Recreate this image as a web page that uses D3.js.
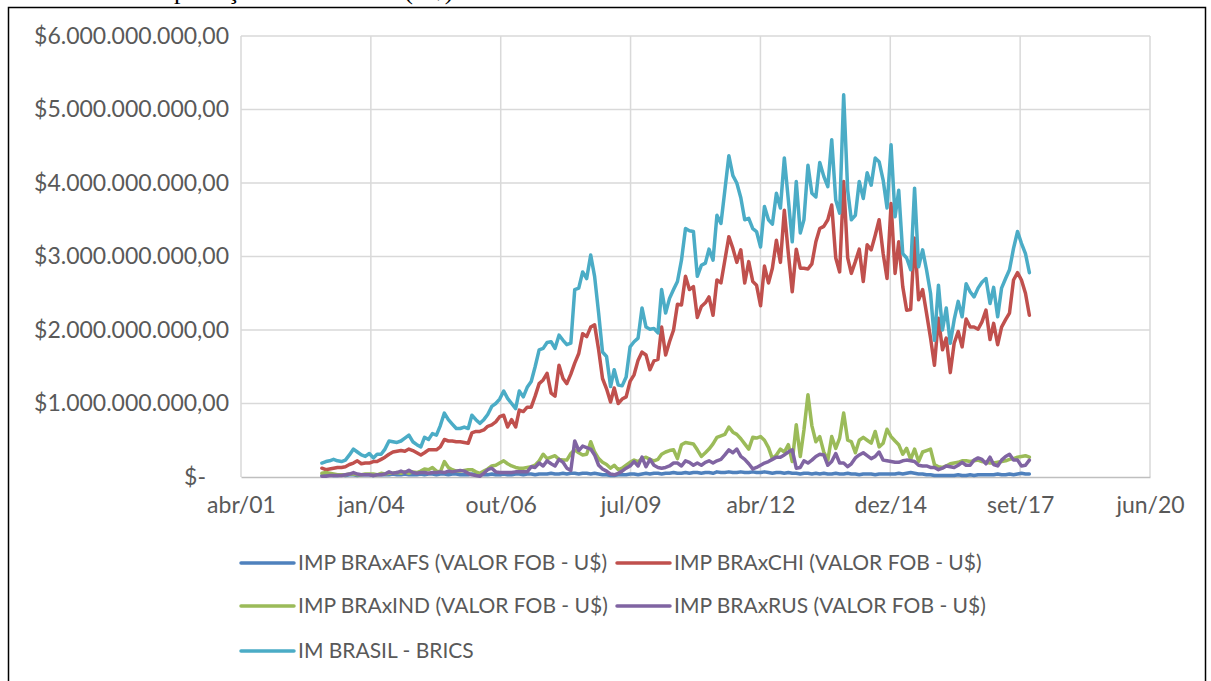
<!DOCTYPE html>
<html>
<head>
<meta charset="utf-8">
<script src="https://cdn.jsdelivr.net/npm/d3@7/dist/d3.min.js"></script>
<style>
  body { margin: 0; background: #fff; }
  text { font-family: Lato, "Open Sans", sans-serif; fill: #595959; }
</style>
</head>
<body>
<svg id="chart" width="1211" height="681"></svg>
<script>
// monthly imports, jan/2003 .. dez/2017, in billions of US$
var firstMonth = new Date(2003, 0, 1);

var seriesNames = [
    'IMP BRAxAFS (VALOR FOB - U$)',
    'IMP BRAxCHI (VALOR FOB - U$)',
    'IMP BRAxIND (VALOR FOB - U$)',
    'IMP BRAxRUS (VALOR FOB - U$)',
    'IM BRASIL - BRICS'
];
var seriesColors = ['#4f81bd', '#c0504d', '#9bbb59', '#8064a2', '#4bacc6'];

var afs = [
    0.02,0.02,0.03,0.02,0.02,0.03,0.02,0.03,0.03,0.02,0.03,0.03,
    0.03,0.02,0.03,0.03,0.03,0.03,0.04,0.03,0.03,0.04,0.03,0.03,
    0.03,0.04,0.03,0.04,0.04,0.03,0.04,0.04,0.03,0.04,0.04,0.03,
    0.03,0.03,0.04,0.03,0.04,0.03,0.03,0.04,0.03,0.03,0.04,0.03,
    0.03,0.04,0.04,0.03,0.04,0.04,0.03,0.04,0.04,0.04,0.05,0.04,
    0.04,0.05,0.04,0.05,0.05,0.04,0.05,0.05,0.04,0.05,0.04,0.03,
    0.03,0.02,0.02,0.03,0.03,0.03,0.04,0.04,0.03,0.04,0.05,0.04,
    0.05,0.05,0.04,0.05,0.05,0.06,0.05,0.05,0.06,0.05,0.06,0.06,
    0.05,0.06,0.06,0.05,0.07,0.06,0.06,0.07,0.06,0.06,0.07,0.06,
    0.06,0.07,0.06,0.06,0.07,0.06,0.05,0.06,0.06,0.05,0.06,0.05,
    0.05,0.04,0.05,0.05,0.04,0.05,0.04,0.05,0.04,0.04,0.05,0.04,
    0.04,0.05,0.04,0.04,0.03,0.04,0.04,0.04,0.03,0.04,0.04,0.04,
    0.04,0.04,0.05,0.04,0.05,0.06,0.05,0.04,0.04,0.03,0.03,0.02,
    0.02,0.02,0.02,0.02,0.02,0.03,0.02,0.02,0.03,0.02,0.03,0.03,
    0.03,0.03,0.03,0.04,0.03,0.03,0.04,0.03,0.04,0.05,0.04,0.04
];

var chi = [
    0.12,0.10,0.11,0.12,0.13,0.13,0.14,0.17,0.19,0.22,0.18,0.19,
    0.19,0.21,0.21,0.24,0.27,0.31,0.34,0.35,0.36,0.35,0.38,0.36,
    0.33,0.30,0.33,0.37,0.37,0.37,0.41,0.51,0.49,0.49,0.48,0.48,
    0.47,0.46,0.60,0.62,0.62,0.64,0.69,0.71,0.75,0.82,0.84,0.68,
    0.78,0.68,0.91,0.89,0.95,0.95,1.10,1.27,1.32,1.41,1.14,1.10,
    1.52,1.34,1.27,1.40,1.55,1.68,1.95,1.91,2.04,2.07,1.73,1.34,
    1.20,1.02,1.21,1.00,1.06,1.09,1.30,1.39,1.59,1.70,1.66,1.46,
    1.58,1.60,2.04,1.66,1.84,2.00,2.35,2.34,2.73,2.55,2.59,2.17,
    2.32,2.37,2.45,2.20,2.68,2.64,2.95,3.27,3.11,2.92,3.09,2.64,
    2.93,2.66,2.61,2.33,2.87,2.64,2.84,3.22,2.92,3.63,3.04,2.52,
    3.10,2.84,2.84,2.83,2.90,3.20,3.38,3.41,3.50,3.70,2.98,2.79,
    4.02,2.98,2.77,2.93,3.10,2.66,3.16,3.09,3.29,3.50,3.04,2.70,
    3.72,2.77,3.20,2.59,2.27,2.28,3.25,2.41,2.55,2.23,1.89,1.52,
    2.16,1.73,1.89,1.42,1.82,1.98,1.77,2.15,2.04,2.04,2.01,2.11,
    2.27,1.87,2.09,1.80,2.04,2.14,2.23,2.68,2.78,2.68,2.50,2.20
];

var ind = [
    0.05,0.06,0.05,0.04,0.03,0.03,0.03,0.04,0.04,0.03,0.03,0.04,
    0.04,0.04,0.03,0.05,0.04,0.05,0.05,0.06,0.05,0.07,0.05,0.07,
    0.06,0.08,0.11,0.10,0.13,0.08,0.07,0.21,0.13,0.10,0.08,0.08,
    0.09,0.10,0.10,0.07,0.05,0.08,0.11,0.15,0.16,0.19,0.22,0.18,
    0.15,0.13,0.12,0.12,0.13,0.14,0.16,0.22,0.31,0.25,0.27,0.29,
    0.24,0.23,0.23,0.32,0.37,0.33,0.30,0.31,0.48,0.34,0.25,0.20,
    0.17,0.12,0.16,0.10,0.12,0.16,0.20,0.23,0.21,0.25,0.27,0.24,
    0.22,0.24,0.31,0.34,0.36,0.37,0.25,0.44,0.47,0.46,0.45,0.37,
    0.28,0.33,0.38,0.45,0.54,0.56,0.58,0.68,0.61,0.58,0.52,0.45,
    0.38,0.54,0.53,0.55,0.50,0.40,0.25,0.30,0.38,0.34,0.44,0.21,
    0.71,0.28,0.64,1.12,0.70,0.48,0.55,0.34,0.23,0.55,0.39,0.53,
    0.87,0.50,0.48,0.33,0.50,0.54,0.50,0.46,0.62,0.41,0.46,0.65,
    0.55,0.49,0.44,0.31,0.39,0.24,0.38,0.21,0.34,0.36,0.38,0.17,
    0.14,0.13,0.15,0.18,0.19,0.20,0.22,0.22,0.21,0.22,0.23,0.21,
    0.20,0.19,0.19,0.20,0.21,0.22,0.24,0.25,0.27,0.28,0.29,0.27
];

var rus = [
    0.01,0.01,0.02,0.02,0.02,0.02,0.03,0.04,0.06,0.04,0.03,0.03,
    0.03,0.02,0.03,0.03,0.04,0.07,0.05,0.06,0.08,0.06,0.09,0.06,
    0.05,0.06,0.06,0.05,0.06,0.06,0.07,0.06,0.08,0.07,0.08,0.09,
    0.08,0.05,0.03,0.02,0.01,0.05,0.10,0.12,0.07,0.06,0.06,0.06,
    0.06,0.07,0.07,0.07,0.07,0.14,0.13,0.19,0.15,0.22,0.18,0.15,
    0.24,0.20,0.12,0.09,0.49,0.36,0.42,0.40,0.38,0.30,0.16,0.11,
    0.08,0.04,0.03,0.05,0.08,0.12,0.15,0.21,0.15,0.27,0.14,0.24,
    0.16,0.13,0.12,0.13,0.15,0.19,0.19,0.15,0.22,0.20,0.16,0.19,
    0.16,0.20,0.22,0.19,0.22,0.24,0.30,0.37,0.33,0.38,0.28,0.24,
    0.18,0.11,0.13,0.16,0.19,0.21,0.24,0.27,0.27,0.30,0.34,0.37,
    0.12,0.13,0.22,0.19,0.23,0.28,0.31,0.30,0.16,0.21,0.32,0.19,
    0.19,0.14,0.18,0.26,0.30,0.33,0.29,0.25,0.28,0.34,0.23,0.22,
    0.21,0.20,0.20,0.22,0.23,0.22,0.21,0.16,0.15,0.15,0.13,0.13,
    0.10,0.12,0.15,0.14,0.13,0.16,0.20,0.16,0.16,0.23,0.26,0.24,
    0.18,0.27,0.17,0.15,0.23,0.28,0.31,0.23,0.23,0.15,0.16,0.23
];

var brics = [
    0.19,0.21,0.22,0.24,0.22,0.21,0.23,0.30,0.38,0.34,0.30,0.28,
    0.32,0.26,0.31,0.31,0.38,0.49,0.48,0.47,0.49,0.53,0.57,0.48,
    0.44,0.41,0.54,0.51,0.59,0.57,0.70,0.87,0.78,0.72,0.66,0.66,
    0.68,0.66,0.84,0.78,0.73,0.78,0.85,0.96,1.00,1.06,1.17,1.07,
    1.00,0.93,1.17,1.09,1.22,1.30,1.50,1.73,1.75,1.83,1.84,1.75,
    1.93,1.86,1.80,1.82,2.55,2.57,2.79,2.70,3.02,2.73,2.23,1.70,
    1.64,1.23,1.46,1.25,1.24,1.36,1.77,1.84,1.89,2.30,2.04,2.01,
    2.02,1.96,2.55,2.23,2.43,2.55,2.66,2.95,3.38,3.35,3.34,2.73,
    2.88,2.91,3.10,2.95,3.56,3.45,3.90,4.37,4.10,4.00,3.80,3.50,
    3.52,3.38,3.34,3.13,3.68,3.50,3.44,3.86,3.66,4.34,3.77,3.20,
    4.02,3.32,3.50,4.24,3.86,3.81,4.28,4.09,3.95,4.59,3.77,3.59,
    5.20,3.90,3.50,3.56,4.02,3.79,4.14,3.97,4.34,4.29,4.04,3.66,
    4.52,3.54,3.90,3.04,2.98,2.82,3.93,2.86,3.09,2.82,2.50,1.86,
    2.61,2.00,2.30,1.82,2.14,2.39,2.18,2.63,2.52,2.45,2.57,2.65,
    2.70,2.36,2.58,2.18,2.57,2.70,2.82,3.11,3.34,3.18,3.04,2.78
];

var yTicks = [0, 1, 2, 3, 4, 5, 6];
var yTickLabels = ['$-', '$1.000.000.000,00', '$2.000.000.000,00', '$3.000.000.000,00',
    '$4.000.000.000,00', '$5.000.000.000,00', '$6.000.000.000,00'];
// excel date axis: 1000-day steps starting at serial 37000 (18/04/2001)
var xTickLabels = ['abr/01', 'jan/04', 'out/06', 'jul/09', 'abr/12', 'dez/14', 'set/17', 'jun/20'];
var xStart = new Date(2001, 3, 18),
    dayMs = 864e5;

var svg = d3.select('#chart'),
    plotLeft = 241, plotRight = 1150, plotTop = 36, plotBottom = 477;

var x = d3.scaleTime()
    .domain([xStart, new Date(xStart.getTime() + 7000 * dayMs)])
    .range([plotLeft, plotRight]);
var y = d3.scaleLinear().domain([0, 6]).range([plotBottom, plotTop]);

var xTicks = xTickLabels.map(function (d, i) {
    return new Date(xStart.getTime() + i * 1000 * dayMs);
});

// frame around the figure and the cut-off caption above it
svg.append('text')
    .attr('x', 145)
    .attr('y', -1)
    .style('font-family', '"Liberation Serif", "DejaVu Serif", serif')
    .style('font-size', '26px')
    .style('fill', '#000')
    .text('Importações dos BRICS (U$)');
svg.append('rect')
    .attr('x', 8.5).attr('y', 7.5)
    .attr('width', 1197).attr('height', 700)
    .attr('fill', 'none')
    .attr('stroke', '#000')
    .attr('stroke-width', 1.5);

// gridlines
svg.append('g')
    .selectAll('line')
    .data(yTicks.slice(1))
    .enter()
    .append('line')
    .attr('x1', plotLeft).attr('x2', plotRight)
    .attr('y1', function (d) { return y(d); })
    .attr('y2', function (d) { return y(d); })
    .attr('stroke', '#d9d9d9')
    .attr('stroke-width', 1.5);
svg.append('g')
    .selectAll('line')
    .data(xTicks)
    .enter()
    .append('line')
    .attr('x1', function (d) { return x(d); })
    .attr('x2', function (d) { return x(d); })
    .attr('y1', plotTop).attr('y2', plotBottom)
    .attr('stroke', '#d9d9d9')
    .attr('stroke-width', 1.5);

// x axis
var xAxis = d3.axisBottom(x)
    .tickValues(xTicks)
    .tickSize(0)
    .tickPadding(20)
    .tickFormat(function (d, i) { return xTickLabels[i]; });
var gx = svg.append('g')
    .attr('transform', 'translate(0,' + plotBottom + ')')
    .call(xAxis);
gx.select('.domain').attr('stroke', '#bfbfbf').attr('stroke-width', 1.5);
gx.selectAll('text')
    .style('font-family', 'Lato, sans-serif')
    .style('font-size', '23px')
    .attr('fill', '#595959');

// y axis
var yAxis = d3.axisLeft(y)
    .tickValues(yTicks)
    .tickSize(0)
    .tickPadding(12)
    .tickFormat(function (d, i) { return yTickLabels[i]; });
var gy = svg.append('g')
    .attr('transform', 'translate(' + plotLeft + ',0)')
    .call(yAxis);
gy.select('.domain').remove();
gy.selectAll('text')
    .style('font-family', 'Lato, sans-serif')
    .style('font-size', '23px')
    .attr('fill', '#595959')
    .attr('dx', function (d) { return d === 0 ? -23 : 0; });

// lines
var all = [afs, chi, ind, rus, brics];
var line = d3.line()
    .x(function (d, i) { return x(new Date(2003, i, 1)); })
    .y(function (d) { return y(d); });

svg.append('g')
    .selectAll('path')
    .data(all)
    .enter()
    .append('path')
    .attr('d', line)
    .attr('fill', 'none')
    .attr('stroke', function (d, i) { return seriesColors[i]; })
    .attr('stroke-width', 3.5)
    .attr('stroke-linejoin', 'round')
    .attr('stroke-linecap', 'round');

// legend, two columns
var legendPos = [[241, 563], [617, 563], [241, 606], [617, 606], [241, 651]];
var lg = svg.append('g')
    .selectAll('g')
    .data(seriesNames)
    .enter()
    .append('g')
    .attr('transform', function (d, i) {
        return 'translate(' + legendPos[i][0] + ',' + legendPos[i][1] + ')';
    });
lg.append('line')
    .attr('x1', 0).attr('x2', 53)
    .attr('stroke', function (d, i) { return seriesColors[i]; })
    .attr('stroke-width', 3.5)
    .attr('stroke-linecap', 'round');
lg.append('text')
    .attr('x', 57)
    .attr('dy', '0.35em')
    .style('font-size', '21px')
    .text(function (d) { return d; });
</script>
</body>
</html>
